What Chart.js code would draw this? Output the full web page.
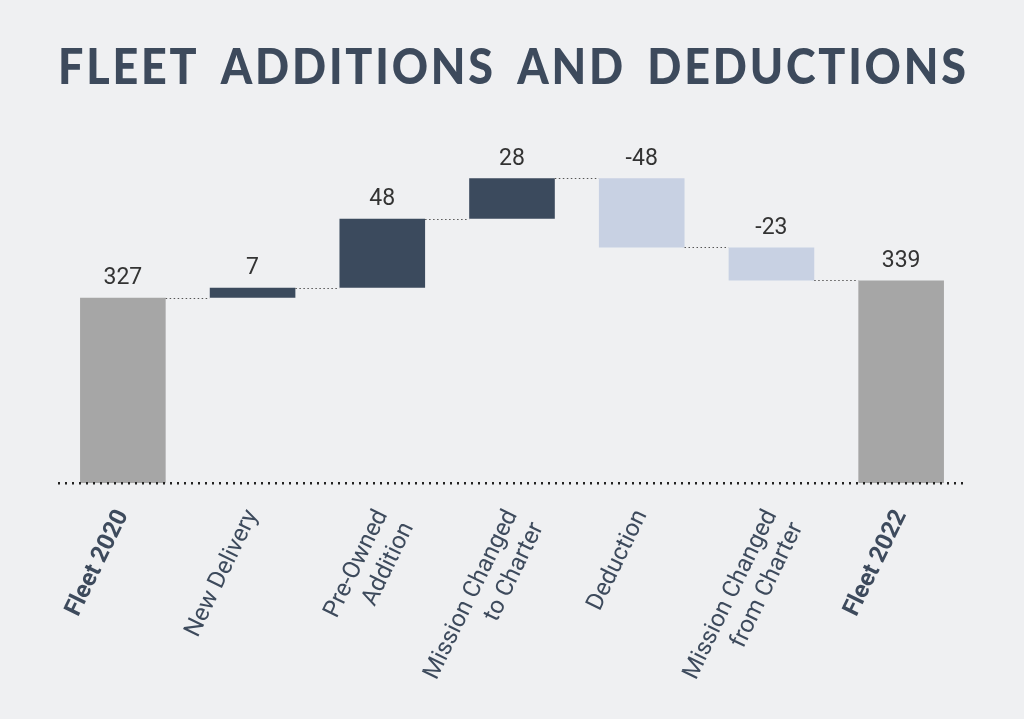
<!DOCTYPE html>
<html>
<head>
<meta charset="utf-8">
<script src="https://cdn.jsdelivr.net/npm/chart.js@4"></script>
<style>
  html, body { margin: 0; padding: 0; background: #eff0f2; }
  #wrap { width: 1024px; height: 719px; position: relative; }
</style>
</head>
<body>
<div id="wrap"><canvas id="c"></canvas></div>
<script>
// Waterfall data
const categories = [['Fleet 2020'], ['New Delivery'], ['Pre-Owned', 'Addition'], ['Mission Changed', 'to Charter'], ['Deduction'], ['Mission Changed', 'from Charter'], ['Fleet 2022']];
const changes = [327, 7, 48, 28, -48, -23, 339];
const totals = [true, false, false, false, false, false, true];
const axisMin = 198;
const axisMax = 445;

// Build floating ranges from the changes
let running = 0;
const ranges = changes.map((v, i) => {
    if (totals[i]) { running = v; return [axisMin, v]; }
    const start = running;
    running += v;
    return [start, running];
});
const colors = changes.map((v, i) => totals[i] ? '#a6a6a6' : (v >= 0 ? '#3b4a5d' : '#c8d1e3'));

const waterfallExtras = {
    id: 'waterfallExtras',
    afterDatasetsDraw(chart) {
        const { ctx, scales: { x, y }, chartArea } = chart;
        const meta = chart.getDatasetMeta(0);
        ctx.save();
        // connectors
        ctx.strokeStyle = '#555';
        ctx.lineWidth = 1;
        ctx.setLineDash([1.5, 2.5]);
        for (let i = 0; i < ranges.length - 1; i++) {
            const py = Math.round(y.getPixelForValue(ranges[i][1])) + 0.5;
            const a = meta.data[i], b = meta.data[i + 1];
            ctx.beginPath();
            ctx.moveTo(a.x + a.width / 2, py);
            ctx.lineTo(b.x - b.width / 2, py);
            ctx.stroke();
        }
        // baseline
        ctx.strokeStyle = '#222';
        ctx.lineWidth = 2.5;
        ctx.setLineDash([2, 5]);
        const by = y.getPixelForValue(axisMin);
        ctx.beginPath();
        ctx.moveTo(chartArea.left, by);
        ctx.lineTo(chartArea.right, by);
        ctx.stroke();
        // value labels
        ctx.setLineDash([]);
        ctx.fillStyle = '#333';
        ctx.font = '23px "Roboto", sans-serif';
        ctx.textAlign = 'center';
        ctx.textBaseline = 'bottom';
        meta.data.forEach((bar, i) => {
            const top = Math.max(ranges[i][0], ranges[i][1]);
            ctx.fillText(String(changes[i]), bar.x, y.getPixelForValue(top) - 8);
        });
        ctx.restore();
    }
};

new Chart(document.getElementById('c'), {
    type: 'bar',
    data: {
        labels: categories,
        datasets: [{ data: ranges, backgroundColor: colors, borderWidth: 0, barPercentage: 0.66, categoryPercentage: 1 }]
    },
    options: {
        responsive: true,
        maintainAspectRatio: false,
        animation: false,
        layout: { padding: { left: 58, right: 58, top: 20, bottom: 8 } },
        plugins: {
            legend: { display: false },
            tooltip: { enabled: false },
            title: {
                display: true,
                text: 'F L E E T   A D D I T I O N S   A N D   D E D U C T I O N S'.replace(/ (?! )/g, '\u200A'),
                color: '#3d4a5c',
                font: { family: 'Lato', size: 50, weight: '900' },
                padding: { top: 18, bottom: 30 }
            }
        },
        scales: {
            y: { display: false, min: axisMin, max: axisMax },
            x: {
                grid: { display: false },
                border: { display: false },
                ticks: {
                    color: '#3d4a5c',
                    maxRotation: 64,
                    minRotation: 64,
                    padding: 14,
                    font: (c) => ({ family: 'Roboto', size: 24, weight: (c.index === 0 || c.index === 6) ? 'bold' : 'normal' })
                }
            }
        }
    },
    plugins: [waterfallExtras]
});
</script>
</body>
</html>
